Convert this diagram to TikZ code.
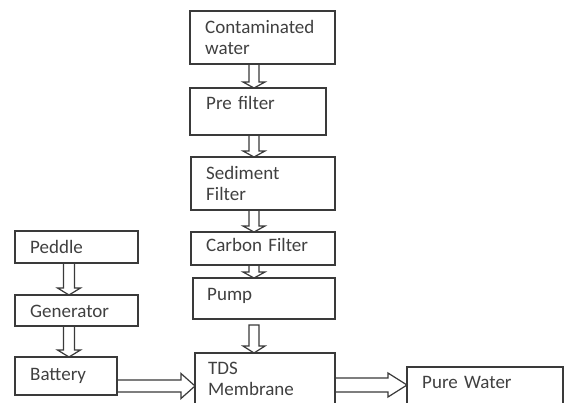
\documentclass[tikz,border=0pt]{standalone}
\usepackage{fontspec}
\setmainfont{Carlito}
\usetikzlibrary{calc}
\definecolor{ink}{HTML}{3A3A3A}
\definecolor{txt}{HTML}{404040}
\tikzset{
  box/.style={draw=ink, line width=1.3pt, inner sep=0pt, outer sep=0pt, anchor=north west},
  lbl/.style={text=txt, font=\fontsize{19}{21}\selectfont, anchor=base west, inner sep=0pt,
              align=left, text width=140pt},
  downarrow/.style args={#1/#2/#3}{draw=ink, line width=1.2pt, line join=miter,
    to path={let \p1=(\tikztostart), \p2=(\tikztotarget) in
      ({\x1-#1},\y1) -- ({\x1-#1},{\y2+#3}) -- ({\x1-#2},{\y2+#3}) -- (\x1,\y2)
      -- ({\x1+#2},{\y2+#3}) -- ({\x1+#1},{\y2+#3}) -- ({\x1+#1},\y1) -- cycle}},
  rightarrow/.style args={#1/#2/#3}{draw=ink, line width=1.2pt, line join=miter,
    to path={let \p1=(\tikztostart), \p2=(\tikztotarget) in
      (\x1,{\y1+#1}) -- ({\x2-#3},{\y1+#1}) -- ({\x2-#3},{\y1+#2}) -- (\x2,\y1)
      -- ({\x2-#3},{\y1-#2}) -- ({\x2-#3},{\y1-#1}) -- (\x1,{\y1-#1}) -- cycle}}
}
\begin{document}
\begin{tikzpicture}[x=1pt,y=1pt]
\clip (0,0) rectangle (565,-402);
\fill[white] (0,0) rectangle (565,-402);

% axes for connectors
\coordinate (mainaxis) at (254,0);
\coordinate (leftaxis) at (69,0);
\coordinate (batrow) at (0,-386);
\coordinate (purerow) at (0,-385);

% main column boxes
\node[box, minimum width=145pt, minimum height=53pt] (cw) at (190,-11) {};
\node[box, minimum width=136pt, minimum height=47pt] (pre) at (190,-88) {};
\node[box, minimum width=144pt, minimum height=53pt] (sed) at (191,-157) {};
\node[box, minimum width=144pt, minimum height=33pt] (carb) at (191,-232) {};
\node[box, minimum width=142pt, minimum height=41pt] (pump) at (193,-278) {};
\node[box, minimum width=140pt, minimum height=70pt] (tds) at (195,-353) {};
% left column boxes
\node[box, minimum width=123pt, minimum height=32pt] (ped) at (15,-231) {};
\node[box, minimum width=123pt, minimum height=31pt] (gen) at (15,-295) {};
\node[box, minimum width=102pt, minimum height=38pt] (bat) at (15,-357) {};
% output box
\node[box, minimum width=156pt, minimum height=55pt] (pure) at (407,-367) {};

% labels
\node[lbl] (cwt) at (205,-33) {Contaminated\\water};
\node[lbl] (pret) at (206,-109) {Pre filter};
\node[lbl] (sedt) at (206,-179) {Sediment\\Filter};
\node[lbl] (carbt) at (206,-251) {Carbon Filter};
\node[lbl] (pumpt) at (207,-300) {Pump};
\node[lbl] (tdst) at (208,-374) {TDS\\Membrane};
\node[lbl] (pedt) at (30,-253) {Peddle};
\node[lbl] (gent) at (30,-317) {Generator};
\node[lbl] (batt) at (30,-380) {Battery};
\node[lbl] (puret) at (422,-388) {Pure Water};

% connectors
\coordinate (pumpout) at ([yshift=-6pt]pump.south);
\draw[downarrow={5pt/11pt/6pt}] (cw.south -| mainaxis) to (pre.north -| mainaxis);
\draw[downarrow={5pt/11pt/6pt}] (pre.south -| mainaxis) to (sed.north -| mainaxis);
\draw[downarrow={5pt/11pt/6pt}] (sed.south -| mainaxis) to (carb.north -| mainaxis);
\draw[downarrow={5pt/11pt/6pt}] (carb.south -| mainaxis) to (pump.north -| mainaxis);
\draw[downarrow={5pt/11pt/7pt}] (pumpout -| mainaxis) to (tds.north -| mainaxis);
\draw[downarrow={5.5pt/11.5pt/7pt}] (ped.south -| leftaxis) to (gen.north -| leftaxis);
\draw[downarrow={5.5pt/11.5pt/7pt}] (gen.south -| leftaxis) to (bat.north -| leftaxis);
\draw[rightarrow={6pt/12.5pt/14pt}] (bat.east |- batrow) to (tds.west |- batrow);
\draw[rightarrow={7pt/12pt/19pt}] (tds.east |- purerow) to (pure.west |- purerow);
\end{tikzpicture}
\end{document}
